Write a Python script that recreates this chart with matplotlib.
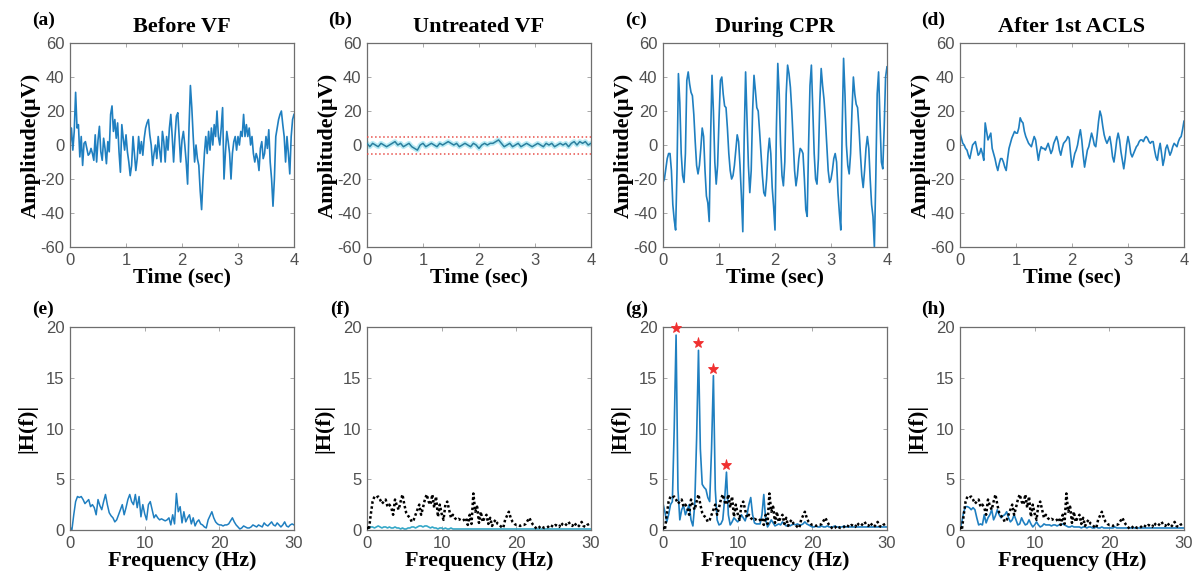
import numpy as np
import matplotlib.pyplot as plt

plt.rcParams['font.family'] = ['Liberation Sans', 'DejaVu Sans']
plt.rcParams['axes.unicode_minus'] = False

# ---- time-domain ECG segments (uV), sampled every 0.025 s over 4 s ----
before_vf = [
    0, 10, -3, 8, 31, 10, 12, -7, 5, -12,
    1, 2, -2, -6, -5, -2, -5, -9, 6, -10,
    3, 11, -4, -9, 4, -2, -11, 2, -4, 18,
    23, 8, 15, 4, 13, -4, -16, 12, 4, -3,
    6, -4, -10, -18, -12, 5, -5, -15, -8, 5,
    -5, 2, -6, 4, 10, 13, 15, 6, 0, -12,
    -5, 0, -8, 5, -3, -10, 8, 2, -10, 5,
    -3, 10, 18, 5, -10, 5, 17, 19, 5, -10,
    3, 8, 0, -10, -23, 10, 35, 22, 5, -10,
    0, -8, -12, -27, -38, -20, -5, 5, -5, 8,
    -3, 10, 0, 12, 5, 20, 5, 0, 10, 22,
    -20, -5, 8, 2, -5, -20, -5, 2, 5, -3,
    5, 0, 8, 5, 18, 5, 12, 5, 10, 0,
    5, -5, -10, -5, -8, -15, -2, 2, -8, -5,
    5, -2, 9, -10, -20, -36, -20, 5, 10, 15,
    18, 20, 12, 5, -10, 5, -5, -17, 5, 15,
    18,
]

# untreated VF, sampled every 0.05 s
untreated_vf = [
    1, -1, 1, 0, -1, 1, 0, -1, 0, 1,
    2, 0, 1, -1, 0, 1, -1, -2, -3, 0,
    1, -1, 0, 1, 0, -1, 1, 0, 1, 2,
    1, 0, 1, -1, 0, 1, 0, -1, 1, 0,
    -2, 0, 1, 0, 1, 1, 2, 3, 1, -1,
    0, 1, -1, 0, 1, -1, 0, 1, 0, -1,
    0, 1, 0, -1, 1, 0, 1, -1, 0, 1,
    0, 1, -1, 1, 2, 0, 2, 1, 2, 0,
    1,
]
vf_threshold = 5

during_cpr = [
    -22, -20, -14, -8, -5, -5, -15, -35, -44, -50,
    -15, 42, 25, -5, -18, -22, -5, 38, 43, 36,
    31, 29, 18, 2, -12, -17, -12, -2, 10, 5,
    -15, -30, -34, -45, 5, 41, 20, -10, -23, -12,
    15, 38, 40, 30, 23, 22, 10, -5, -15, -20,
    -18, -12, -3, 6, 2, -12, -30, -51, 5, 43,
    15, -12, -28, -15, 20, 41, 32, 22, 20, 8,
    -5, -18, -28, -30, -20, -5, 4, -5, -25, -36,
    -50, 10, 48, 30, 0, -18, -24, -10, 30, 47,
    42, 34, 20, 2, -15, -24, -18, -8, -2, -3,
    -5, -20, -38, -42, 0, 35, 47, 20, -5, -20,
    -23, -8, 25, 45, 35, 27, 15, 0, -15, -22,
    -20, -15, -8, -5, -10, -28, -40, -50, 10, 51,
    30, 0, -12, -17, -5, 20, 40, 30, 24, 22,
    10, -5, -18, -25, -15, -2, 5, -2, -20, -35,
    -42, -60, -20, 30, 43, 15, -10, -14, 10, 40,
    46,
]

after_acls = [
    7, 4, 1, 0, -2, -3, -6, -8, -4, 0,
    1, 2, -2, -6, -5, -2, -5, -9, 13, 8,
    3, 5, 7, -2, -5, -8, -12, -15, -11, -8,
    -8, -10, -13, -15, -8, -2, 1, 4, 6, 8,
    7, 7, 10, 16, 14, 13, 8, 5, 3, 1,
    0, -1, 2, 5, 3, -3, -9, -4, -1, -2,
    -2, -3, -1, 1, -2, -5, -3, 1, 3, 5,
    2, -3, -6, -2, 1, 2, 3, 5, 4, -5,
    -13, -9, -5, -3, 0, 5, 9, 3, -6, -13,
    -8, -3, -1, 3, 7, 4, 0, -1, 6, 14,
    20, 17, 11, 6, 3, 1, 3, 5, 0, -7,
    -10, -4, 3, 7, 3, -4, -9, -14, -8, 0,
    5, 1, -5, -7, -5, -3, -1, 0, 2, 3,
    3, 2, 4, 5, 4, 2, 1, 2, 2, -3,
    -7, -9, -3, 1, -5, -12, -8, -2, 0, -3,
    -6, -4, -1, 1, 0, -1, 2, 4, 5, 9,
    14,
]

# ---- amplitude spectra |H(f)|, 0.25 Hz bins from 0 to 30 Hz ----
spec_before = [
    0.3, 0.0, 1.5, 2.8, 3.3, 3.2, 3.3, 3.0,
    2.6, 2.8, 3.0, 2.3, 2.5, 2.2, 1.5, 3.0,
    2.4, 2.0, 2.8, 3.5, 2.5, 1.7, 1.4, 1.2,
    0.8, 1.0, 1.5, 2.0, 2.5, 1.5, 2.2, 3.0,
    3.5, 2.8, 2.5, 3.5, 2.2, 3.3, 1.3, 2.5,
    1.6, 1.0, 2.5, 2.8, 2.0, 1.2, 1.5, 1.2,
    1.0, 1.1, 1.0, 0.9, 1.0, 1.2, 0.5, 1.5,
    0.6, 3.6, 1.8, 2.3, 0.7, 1.8, 0.8, 1.2,
    1.5, 0.6, 1.2, 0.4, 0.8, 1.0, 0.6, 0.5,
    0.3, 0.2, 1.0, 1.4, 1.8, 1.2, 0.8, 0.6,
    0.5, 0.5, 0.4, 0.5, 0.5, 0.6, 0.9, 1.2,
    0.8, 0.5, 0.3, 0.1, 0.2, 0.4, 0.3, 0.2,
    0.2, 0.3, 0.5, 0.4, 0.3, 0.5, 0.4, 0.3,
    0.7, 0.5, 0.4, 0.6, 0.8, 0.5, 0.4, 0.7,
    0.5, 0.3, 0.5, 0.8, 0.4, 0.3, 0.5, 0.6,
    0.5,
]

spec_untreated = [
    0.1, 0.2, 0.3, 0.3, 0.2, 0.3, 0.4, 0.3,
    0.2, 0.3, 0.3, 0.2, 0.3, 0.2, 0.2, 0.3,
    0.2, 0.2, 0.1, 0.2, 0.1, 0.1, 0.2, 0.2,
    0.3, 0.3, 0.2, 0.3, 0.4, 0.4, 0.3, 0.4,
    0.4, 0.3, 0.2, 0.3, 0.2, 0.2, 0.1, 0.2,
    0.2, 0.1, 0.2, 0.1, 0.1, 0.2, 0.1, 0.1,
    0.1, 0.1, 0.1, 0.1, 0.1, 0.1, 0.1, 0.1,
    0.1, 0.1, 0.1, 0.1, 0.1, 0.1, 0.1, 0.1,
    0.1, 0.1, 0.1, 0.1, 0.1, 0.1, 0.1, 0.1,
    0.1, 0.1, 0.1, 0.1, 0.1, 0.1, 0.1, 0.1,
    0.1, 0.1, 0.1, 0.1, 0.1, 0.1, 0.1, 0.1,
    0.1, 0.1, 0.1, 0.1, 0.1, 0.1, 0.1, 0.1,
    0.1, 0.1, 0.1, 0.1, 0.1, 0.1, 0.1, 0.1,
    0.1, 0.1, 0.1, 0.1, 0.1, 0.1, 0.1, 0.1,
    0.1, 0.1, 0.1, 0.1, 0.1, 0.1, 0.1, 0.1,
    0.1,
]

spec_cpr = [
    2.6, 1.8, 0.8, 1.5, 2.5, 2.8, 10.0, 19.2,
    4.0, 1.0, 2.0, 2.4, 1.5, 2.0, 2.5, 1.0,
    0.4, 2.5, 9.0, 17.7, 8.0, 4.5, 4.2, 4.0,
    3.2, 2.8, 8.0, 15.2, 4.0, 1.0, 0.5, 0.6,
    1.0, 3.0, 5.7, 1.5, 0.5, 0.8, 1.2, 1.0,
    0.8, 1.0, 1.5, 1.2, 0.9, 1.5, 2.5, 3.2,
    1.5, 0.7, 0.6, 0.6, 0.6, 1.5, 3.5, 1.0,
    0.3, 0.6, 1.0, 0.7, 0.4, 0.5, 0.6, 0.5,
    0.8, 0.6, 0.4, 0.5, 0.4, 0.5, 0.6, 0.5,
    0.6, 0.5, 0.5, 0.6, 0.8, 0.6, 0.5, 0.4,
    0.3, 0.3, 0.4, 0.3, 0.3, 0.4, 0.3, 0.3,
    0.4, 0.3, 0.3, 0.3, 0.4, 0.3, 0.3, 0.3,
    0.3, 0.4, 0.3, 0.3, 0.3, 0.3, 0.3, 0.3,
    0.3, 0.3, 0.3, 0.3, 0.3, 0.3, 0.3, 0.3,
    0.3, 0.3, 0.3, 0.3, 0.3, 0.3, 0.3, 0.3,
    0.3,
]
cpr_peak_bins = [7, 19, 27, 34]

spec_acls = [
    0.0, 0.8, 1.8, 2.3, 2.3, 2.2, 2.0, 2.2,
    2.0, 1.2, 0.5, 0.6, 0.5, 1.5, 0.7, 1.2,
    1.5, 2.0, 1.0, 1.4, 2.0, 1.5, 1.2, 1.4,
    1.5, 1.8, 1.2, 0.8, 1.0, 1.5, 1.0, 0.5,
    0.6, 1.2, 0.8, 0.5, 0.6, 1.0, 0.6, 0.3,
    0.5, 0.8, 0.5, 0.3, 0.4, 0.6, 0.5, 0.5,
    0.5, 0.4, 0.5, 0.5, 0.4, 0.5, 0.5, 0.6,
    0.5, 0.4, 0.3, 0.3, 0.4, 0.3, 0.3, 0.3,
    0.3, 0.2, 0.3, 0.3, 0.2, 0.3, 0.3, 0.2,
    0.2, 0.3, 0.2, 0.2, 0.3, 0.2, 0.2, 0.2,
    0.2, 0.2, 0.2, 0.3, 0.2, 0.2, 0.2, 0.2,
    0.2, 0.2, 0.2, 0.2, 0.2, 0.2, 0.2, 0.2,
    0.2, 0.2, 0.2, 0.2, 0.2, 0.2, 0.2, 0.2,
    0.2, 0.2, 0.2, 0.2, 0.2, 0.2, 0.2, 0.2,
    0.2, 0.2, 0.2, 0.2, 0.2, 0.2, 0.2, 0.2,
    0.2,
]

titles = ['Before VF', 'Untreated VF', 'During CPR', 'After 1st ACLS']
letters_top = ['(a)', '(b)', '(c)', '(d)']
letters_bot = ['(e)', '(f)', '(g)', '(h)']

BLUE = '#1f7fc0'
TICK_GREY = '#505050'
SERIF = ['Liberation Serif', 'DejaVu Serif']
LABEL_SIZE = 16


def style_axes(ax):
    for s in ax.spines.values():
        s.set_color('#6e6e6e')
        s.set_linewidth(0.9)
    ax.tick_params(direction='in', length=3, width=0.6, color='#9a9a9a',
                   labelcolor=TICK_GREY, labelsize=12, top=True, right=True, pad=4)


fig = plt.figure(figsize=(11.97, 5.83), dpi=100)
lefts = [0.0585, 0.3066, 0.5539, 0.8020]
w = 0.1871

signals = [before_vf, untreated_vf, during_cpr, after_acls]
spectra = [spec_before, spec_untreated, spec_cpr, spec_acls]

for i in range(4):
    # time domain
    ax = fig.add_axes([lefts[i], 0.5763, w, 0.3499])
    sig = np.array(signals[i], dtype=float)
    t = np.linspace(0, 4, len(sig))
    if i == 1:
        ax.plot(t, sig, color='#a8e6f2', lw=3.5, alpha=0.8, zorder=2)
        ax.plot(t, sig, color='#2b7f9e', lw=1.1, zorder=3)
        ax.axhline(vf_threshold, color='#e8504a', ls=':', lw=1.1, zorder=4)
        ax.axhline(-vf_threshold, color='#e8504a', ls=':', lw=1.1, zorder=4)
    else:
        ax.plot(t, sig, color=BLUE, lw=1.2)
    ax.set_xlim(0, 4)
    ax.set_ylim(-60, 60)
    ax.set_xticks([0, 1, 2, 3, 4])
    ax.set_yticks([-60, -40, -20, 0, 20, 40, 60])
    style_axes(ax)
    ax.set_title(titles[i], family=SERIF, fontweight='bold', fontsize=LABEL_SIZE, pad=8)
    ax.set_xlabel('Time (sec)', family=SERIF, fontweight='bold', fontsize=LABEL_SIZE, labelpad=0)
    ax.set_ylabel('Amplitude(\u03bcV)', family=SERIF, fontweight='bold', fontsize=LABEL_SIZE, labelpad=0)
    ax.text(-0.12, 1.07, letters_top[i], transform=ax.transAxes, family=SERIF,
            fontweight='bold', fontsize=14, ha='center', va='bottom')

    # frequency domain
    bx = fig.add_axes([lefts[i], 0.0909, w, 0.3482])
    spec = np.array(spectra[i], dtype=float)
    f = np.linspace(0, 30, len(spec))
    if i == 0:
        bx.plot(f, spec, color=BLUE, lw=1.1)
    else:
        ref = np.array(spec_before, dtype=float)
        bx.plot(f, ref, color='black', ls=(0, (1, 1)), lw=1.8, zorder=3)
        col = '#35a8c8' if i == 1 else BLUE
        bx.plot(f, spec, color=col, lw=1.2, zorder=2)
    if i == 2:
        pk = np.array(cpr_peak_bins)
        bx.plot(f[pk], spec[pk] + 0.7, ls='none', marker='*', color='#f03030',
                markersize=8, markeredgewidth=0.6, zorder=5, clip_on=False)
    bx.set_xlim(0, 30)
    bx.set_ylim(0, 20)
    bx.set_xticks([0, 10, 20, 30])
    bx.set_yticks([0, 5, 10, 15, 20])
    style_axes(bx)
    bx.set_xlabel('Frequency (Hz)', family=SERIF, fontweight='bold', fontsize=LABEL_SIZE, labelpad=0)
    bx.set_ylabel('|H(f)|', family=SERIF, fontweight='bold', fontsize=LABEL_SIZE, labelpad=6)
    bx.text(-0.12, 1.045, letters_bot[i], transform=bx.transAxes, family=SERIF,
            fontweight='bold', fontsize=14, ha='center', va='bottom')

fig.savefig('out.png', dpi=100)
